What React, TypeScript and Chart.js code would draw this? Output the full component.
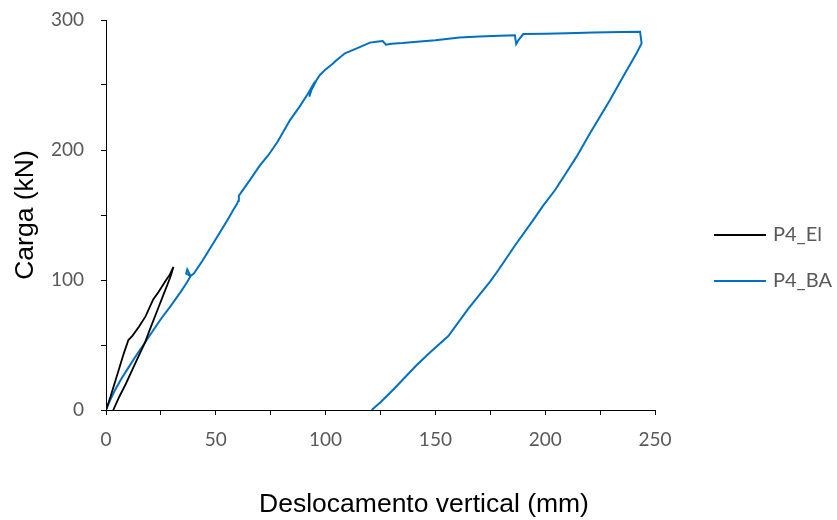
import React, { useEffect, useRef } from "react";
import { Chart, registerables } from "chart.js";

Chart.register(...registerables);

const seriesNames = ["P4_El", "P4_BA"];
const seriesColors = ["#000000", "#0070C0"];

const elX = [0, 2, 4, 6, 8, 10.2, 12, 15, 18, 21.5, 24, 27, 29, 30.7, 30, 29.1, 26, 23, 20, 17.8, 15, 12, 9, 6, 3.3];
const elY = [0, 10, 21, 32, 43, 53.8, 57, 64, 72, 85, 91, 99, 104, 110, 106, 101.3, 88, 75, 62, 52, 42, 31, 20, 10, 0];

const baX = [0, 2, 4, 7, 10, 13, 17, 21, 25, 29, 32, 34.5, 36, 37.5, 38.5, 37, 36.5, 38.5, 40, 44, 48, 52, 56, 58, 59.5, 60.3, 60.5, 61, 65.6, 70, 73.9, 78, 83.8, 88, 92.1, 93.8, 92.6, 93.5, 95.9, 97.4, 100, 103.5, 104.3, 108.8, 114.2, 120.2, 124, 126, 127.5, 130, 135, 143, 150, 161, 170, 179.4, 186.2, 186.8, 188, 190, 200, 210, 222, 235, 243.2, 243.9, 241.6, 235, 229.5, 225, 220.4, 214.3, 209, 204.5, 199, 194.6, 186, 178.7, 174.9, 165, 155.9, 148, 141.5, 131, 125, 121];
const baY = [0, 8, 15, 24, 32, 40, 50, 60, 70, 79, 86, 92, 96, 100, 103, 108, 105, 103, 105, 115, 126, 137, 148, 154, 158, 161, 165, 166, 177, 188, 196, 206, 223, 233, 243.6, 248.7, 241, 246, 253.8, 257.7, 262, 266.7, 268, 274.4, 278.2, 282.6, 283.5, 283.8, 281, 281.8, 282.3, 283.5, 284.5, 286.5, 287.3, 287.9, 288.2, 281.5, 285, 289.2, 289.5, 289.8, 290.3, 290.8, 291, 282, 274.4, 255, 238.5, 225.8, 212.8, 194.9, 181, 169.2, 157, 146.2, 126, 107.7, 98.7, 78, 56.9, 45, 34.6, 16, 6, 0];

const xMin = 0, xMax = 250, xStep = 25, xLabelEvery = 50;
const yMin = 0, yMax = 300, yStep = 50, yLabelEvery = 100;
const xTitle = "Deslocamento vertical (mm)";
const yTitle = "Carga (kN)";

function toPoints(xs: number[], ys: number[]) {
  return xs.map((x, i) => ({ x, y: ys[i] }));
}

const legendPlugin = {
  id: "customLegend",
  afterDraw(chart: any) {
    const ctx = chart.ctx;
    const ys = [235, 281];
    ctx.save();
    chart.data.datasets.forEach((ds: any, i: number) => {
      const y = ys[i];
      ctx.strokeStyle = ds.borderColor;
      ctx.lineWidth = 2;
      ctx.beginPath();
      ctx.moveTo(714, y);
      ctx.lineTo(766, y);
      ctx.stroke();
      ctx.fillStyle = "#595959";
      ctx.font = "20px Lato";
      ctx.textBaseline = "middle";
      ctx.textAlign = "left";
      ctx.fillText(ds.label, 773, y);
    });
    // x axis title
    ctx.fillStyle = "#000000";
    ctx.font = "26.5px 'Liberation Sans'";
    ctx.textAlign = "center";
    ctx.textBaseline = "middle";
    ctx.fillText(xTitle, 424, 505);
    ctx.restore();
  },
};

export default function App() {
  const ref = useRef<HTMLCanvasElement | null>(null);
  useEffect(() => {
    if (!ref.current) return;
    const tickFont = { family: "Lato", size: 19 };
    const titleFont = { family: "Liberation Sans", size: 26.5 };
    const chart = new Chart(ref.current, {
      type: "scatter",
      data: {
        datasets: [
          {
            label: seriesNames[0],
            data: toPoints(elX, elY),
            borderColor: seriesColors[0],
            backgroundColor: seriesColors[0],
            showLine: true,
            pointRadius: 0,
            borderWidth: 1.8,
            tension: 0,
          },
          {
            label: seriesNames[1],
            data: toPoints(baX, baY),
            borderColor: seriesColors[1],
            backgroundColor: seriesColors[1],
            showLine: true,
            pointRadius: 0,
            borderWidth: 2,
            tension: 0,
          },
        ],
      },
      options: {
        animation: false,
        responsive: false,
        layout: { padding: { left: 0, top: 20, right: 182, bottom: 0 } },
        plugins: { legend: { display: false }, tooltip: { enabled: false } },
        scales: {
          x: {
            type: "linear",
            min: xMin,
            max: xMax,
            afterFit(scale: any) { scale.height = 110; scale.paddingLeft = 0; scale.paddingRight = 0; },
            ticks: {
              stepSize: xStep,
              padding: 13,
              color: "#595959",
              font: tickFont,
              maxRotation: 0,
              autoSkip: false,
              callback: (v: any) => (Number(v) % xLabelEvery === 0 ? String(v) : ""),
            },
            grid: { drawOnChartArea: false, drawTicks: true, tickLength: 5, color: "#000000" },
            border: { display: true, color: "#000000", width: 1 },
            title: { display: false, text: xTitle },
          },
          y: {
            type: "linear",
            min: yMin,
            max: yMax,
            afterFit(scale: any) { scale.width = 106; scale.paddingTop = 0; scale.paddingBottom = 0; },
            ticks: {
              stepSize: yStep,
              padding: 17,
              color: "#595959",
              font: tickFont,
              autoSkip: false,
              callback: (v: any) => (Number(v) % yLabelEvery === 0 ? String(v) : ""),
            },
            grid: { drawOnChartArea: false, drawTicks: true, tickLength: 5, color: "#000000" },
            border: { display: true, color: "#000000", width: 1 },
            title: { display: true, text: yTitle, color: "#000000", font: titleFont, padding: { top: 10, bottom: 0 } },
          },
        },
      },
      plugins: [legendPlugin],
    });
    return () => chart.destroy();
  }, []);
  return (
    <div style={{ position: "fixed", left: 0, top: 0, width: 837, height: 520, background: "#ffffff" }}>
      <canvas ref={ref} width={837} height={520} style={{ width: 837, height: 520 }} />
    </div>
  );
}
